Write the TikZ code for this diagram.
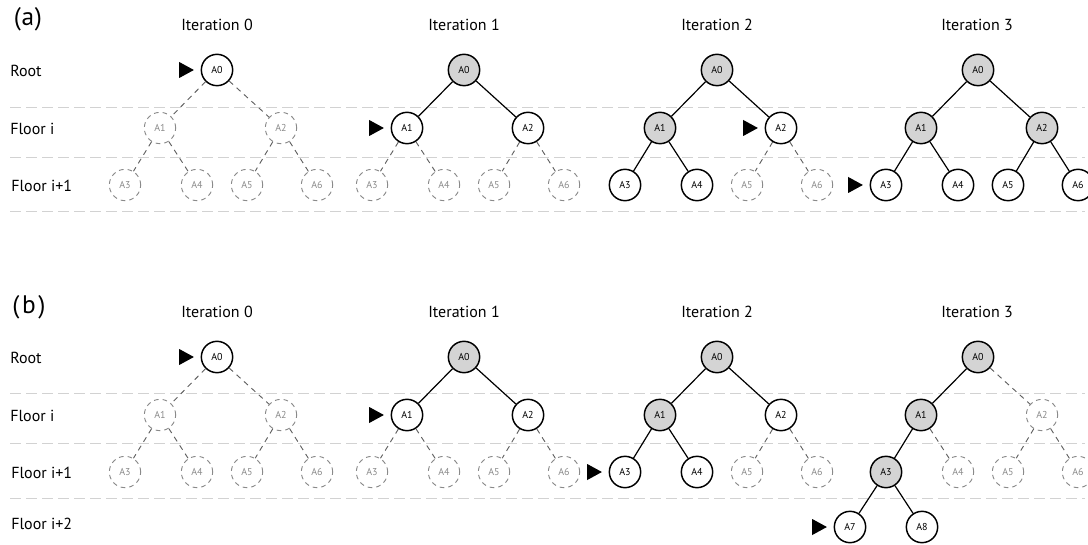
\documentclass[tikz,border=0pt]{standalone}
\usepackage{fontspec}
\setmainfont{PT Sans}
\usetikzlibrary{shapes.geometric}

\definecolor{donefill}{HTML}{D4D4D4}
\definecolor{ghostline}{HTML}{8A8A8A}
\definecolor{ghostedge}{HTML}{606060}
\definecolor{rule}{HTML}{D2D2D2}

\tikzset{
  every node/.style={font=\fontsize{7.5}{8}\selectfont},
  treenode/.style={circle, inner sep=0pt, minimum size=23.5pt},
  done/.style={treenode, draw=black, line width=1.1pt, fill=donefill},
  open/.style={treenode, draw=black, line width=1.1pt, fill=white},
  ghost/.style={treenode, draw=ghostline, line width=0.7pt, dash pattern=on 3.5pt off 3pt, text=ghostline},
  e-done/.style={draw=black, line width=0.9pt},
  e-open/.style={draw=black, line width=0.9pt},
  e-ghost/.style={draw=ghostedge, line width=0.7pt, dash pattern=on 4pt off 3.5pt},
  pointer/.style={isosceles triangle, isosceles triangle stretches, fill=black,
    inner sep=0pt, minimum height=11pt, minimum width=12pt},
  divider/.style={draw=rule, line width=0.7pt, dash pattern=on 8pt off 4pt},
  rowlabel/.style={anchor=west, inner sep=0pt, font=\fontsize{12}{14}\selectfont},
  title/.style={inner sep=0pt, font=\fontsize{12}{14}\selectfont},
  panel/.style={inner sep=0pt, font=\fontsize{19}{21}\selectfont},
}

% one binary tree of depth two; #1 name prefix, #2..#8 styles of A0..A6
\newcommand\mktree[8]{%
  \node[#2] (#1A0) at (0,0) {A0};
  \node[#3] (#1A1) at (-57,58) {A1};
  \node[#4] (#1A2) at (64,58) {A2};
  \node[#5] (#1A3) at (-92,115) {A3};
  \node[#6] (#1A4) at (-20,115) {A4};
  \node[#7] (#1A5) at (30,115) {A5};
  \node[#8] (#1A6) at (100,115) {A6};
  \draw[e-#3] (#1A0) -- (#1A1);
  \draw[e-#4] (#1A0) -- (#1A2);
  \draw[e-#5] (#1A1) -- (#1A3);
  \draw[e-#6] (#1A1) -- (#1A4);
  \draw[e-#7] (#1A2) -- (#1A5);
  \draw[e-#8] (#1A2) -- (#1A6);
}
% black marker in front of the current node
\newcommand\curmarker[2]{%
  \node[pointer, anchor=apex] (#1) at ([xshift=-4.5pt]#2.west) {};
}

\begin{document}
\begin{tikzpicture}[x=0.75pt, y=-0.75pt]
\useasboundingbox (0,0) rectangle (1088,545);

% ---------------- panel (a) ----------------
\node[panel] (pa) at (28,19) {(\kern0.5pt a\kern0.5pt)};
\node[rowlabel] (ra0) at (10,71) {Root};
\node[rowlabel] (ra1) at (10,129) {Floor i};
\node[rowlabel] (ra2) at (11,186) {Floor i+1};
\foreach \y in {107,157,211}
  \draw[divider] (10,\y) -- (1085,\y);

\node[title] (ta0) at (217,25) {Iteration 0};
\node[title] (ta1) at (464,25) {Iteration 1};
\node[title] (ta2) at (717,25) {Iteration 2};
\node[title] (ta3) at (977,25) {Iteration 3};

\begin{scope}[shift={(217,70)}]
  \mktree{ai}{open}{ghost}{ghost}{ghost}{ghost}{ghost}{ghost}
\end{scope}
\begin{scope}[shift={(464,70)}]
  \mktree{aii}{done}{open}{open}{ghost}{ghost}{ghost}{ghost}
\end{scope}
\begin{scope}[shift={(717,70)}]
  \mktree{aiii}{done}{done}{open}{open}{open}{ghost}{ghost}
\end{scope}
\begin{scope}[shift={(978,70)}]
  \mktree{aiv}{done}{done}{done}{open}{open}{open}{open}
\end{scope}
\curmarker{ma0}{aiA0}
\curmarker{ma1}{aiiA1}
\curmarker{ma2}{aiiiA2}
\curmarker{ma3}{aivA3}

% ---------------- panel (b) ----------------
\node[panel] (pb) at (29,307) {(\kern2pt b\kern2pt)};
\node[rowlabel] (rb0) at (10,358) {Root};
\node[rowlabel] (rb1) at (10,416) {Floor i};
\node[rowlabel] (rb2) at (11,473) {Floor i+1};
\node[rowlabel] (rb3) at (11,524) {Floor i+2};
\foreach \y in {393,443,498}
  \draw[divider] (10,\y) -- (1085,\y);

\node[title] (tb0) at (217,312) {Iteration 0};
\node[title] (tb1) at (464,312) {Iteration 1};
\node[title] (tb2) at (717,312) {Iteration 2};
\node[title] (tb3) at (977,312) {Iteration 3};

\begin{scope}[shift={(217,357)}]
  \mktree{bi}{open}{ghost}{ghost}{ghost}{ghost}{ghost}{ghost}
\end{scope}
\begin{scope}[shift={(464,357)}]
  \mktree{bii}{done}{open}{open}{ghost}{ghost}{ghost}{ghost}
\end{scope}
\begin{scope}[shift={(717,357)}]
  \mktree{biii}{done}{done}{open}{open}{open}{ghost}{ghost}
\end{scope}
\begin{scope}[shift={(978,357)}]
  \mktree{biv}{done}{done}{ghost}{done}{ghost}{ghost}{ghost}
  \node[open] (bivA7) at (-128,170) {A7};
  \node[open] (bivA8) at (-56,170) {A8};
  \draw[e-open] (bivA3) -- (bivA7);
  \draw[e-open] (bivA3) -- (bivA8);
\end{scope}
\curmarker{mb0}{biA0}
\curmarker{mb1}{biiA1}
\curmarker{mb2}{biiiA3}
\curmarker{mb3}{bivA7}

\end{tikzpicture}
\end{document}
